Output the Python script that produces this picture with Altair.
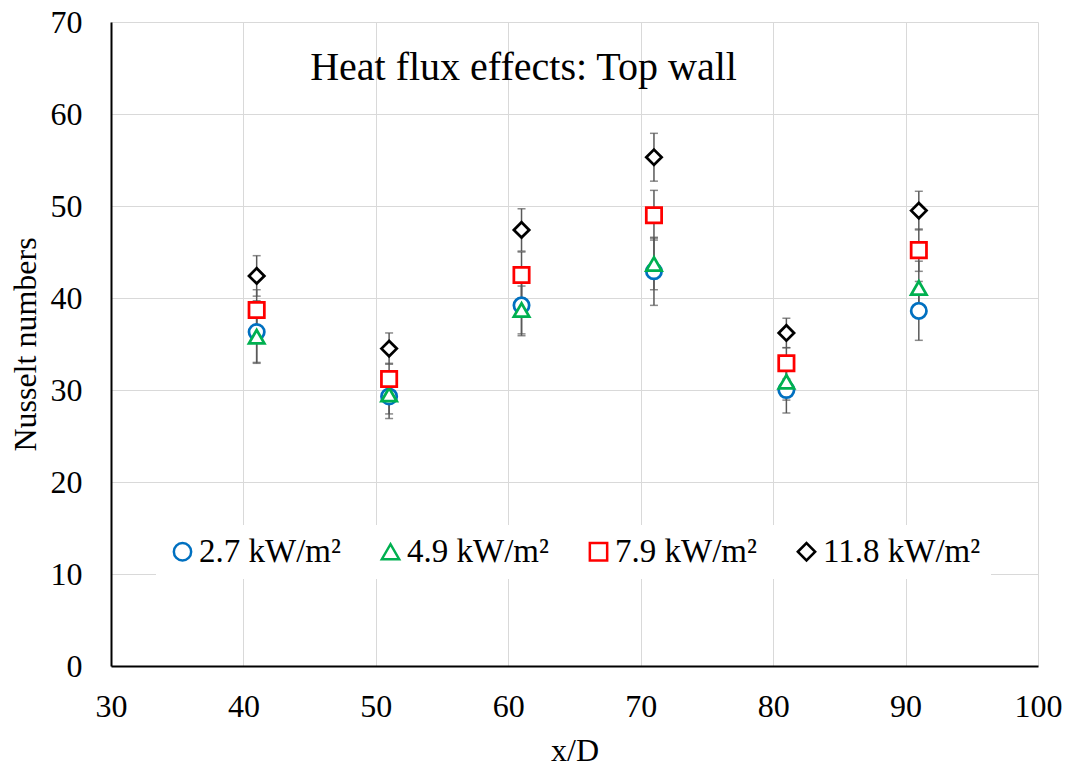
import altair as alt
import pandas as pd

# ---- data ----
x_pos = [41, 51, 61, 71, 81, 91]
series_names = ["2.7 kW/m²", "4.9 kW/m²", "7.9 kW/m²", "11.8 kW/m²"]

nu_27 = [36.3, 29.3, 39.2, 42.9, 30.0, 38.6]
nu_49 = [35.8, 29.5, 38.7, 43.7, 30.9, 41.1]
nu_79 = [38.7, 31.2, 42.5, 49.0, 32.9, 45.2]
nu_118 = [42.4, 34.5, 47.4, 55.3, 36.2, 49.5]

err_27 = [3.4, 2.4, 3.3, 3.7, 2.5, 3.2]
err_49 = [2.8, 2.1, 2.6, 2.8, 2.0, 2.9]
err_79 = [2.2, 1.7, 2.5, 2.7, 1.7, 2.3]
err_118 = [2.2, 1.7, 2.3, 2.6, 1.6, 2.1]

colors = ["#0070C0", "#00B050", "#FF0000", "#000000"]
shapes = ["circle", "triangle-up", "square", "diamond"]

rows = []
for k, (name, vals, errs) in enumerate(zip(series_names,
                                           [nu_27, nu_49, nu_79, nu_118],
                                           [err_27, err_49, err_79, err_118])):
    for xv, v, e in zip(x_pos, vals, errs):
        rows.append({"x": xv, "nu": v, "lo": v - e, "hi": v + e,
                     "series": name, "ord": k})
df = pd.DataFrame(rows)

FONT = "Liberation Serif"

x_enc = alt.X("x:Q", scale=alt.Scale(domain=[30, 100], nice=False),
              axis=alt.Axis(values=list(range(30, 101, 10)), title="x/D",
                            labelPadding=25, labelFlush=False,
                            titleY=84, titleBaseline="middle"))
y_enc_args = dict(scale=alt.Scale(domain=[0, 70], nice=False))

base = alt.Chart(df)

rules = base.mark_rule(color="#595959", strokeWidth=1.5).encode(
    x=x_enc,
    y=alt.Y("lo:Q", **y_enc_args,
            axis=alt.Axis(values=list(range(0, 71, 10)), title="Nusselt numbers",
                          labelPadding=29, labelFlush=False,
                          titleX=-86, titleY=322, titleBaseline="middle")),
    y2="hi:Q",
)
caps_lo = base.mark_tick(color="#595959", thickness=1.5, size=8,
                         orient="horizontal").encode(x="x:Q", y="lo:Q")
caps_hi = base.mark_tick(color="#595959", thickness=1.5, size=8,
                         orient="horizontal").encode(x="x:Q", y="hi:Q")

points = base.mark_point(filled=False, fill="white", fillOpacity=1,
                         strokeWidth=2.75, size=235, opacity=1).encode(
    x="x:Q",
    y="nu:Q",
    color=alt.Color("series:N", sort=series_names,
                    scale=alt.Scale(domain=series_names, range=colors),
                    legend=alt.Legend(title=None, orient="none", legendX=45,
                                      legendY=503, direction="horizontal",
                                      columns=4, symbolSize=300,
                                      symbolStrokeWidth=2.5,
                                      symbolFillColor="white",
                                      labelFont=FONT, labelFontSize=33,
                                      labelColor="black", labelOffset=0,
                                      columnPadding=33, padding=10,
                                      fillColor="white", labelLimit=400)),
    shape=alt.Shape("series:N", sort=series_names,
                    scale=alt.Scale(domain=series_names, range=shapes)),
    order=alt.Order("ord:Q"),
)

chart = alt.layer(rules, caps_lo, caps_hi, points).properties(
    width=927, height=644,
    autosize="none",
    background="white",
    padding={"left": 111, "top": 22, "right": 32, "bottom": 101},
    title=alt.TitleParams("Heat flux effects: Top wall", font=FONT,
                          fontSize=40, fontWeight="normal", color="black",
                          anchor="middle", dx=-51, offset=-102,
                          baseline="middle"),
).configure_view(stroke=None).configure_axis(
    grid=True, gridColor="#d9d9d9", gridWidth=1,
    domainColor="black", domainWidth=2, ticks=False,
    labelFont=FONT, labelFontSize=32, labelColor="black",
    titleFont=FONT, titleFontSize=32, titleFontWeight="normal",
    titleColor="black",
)

chart.save("out.html", embed_options={"renderer": "svg", "actions": False})
